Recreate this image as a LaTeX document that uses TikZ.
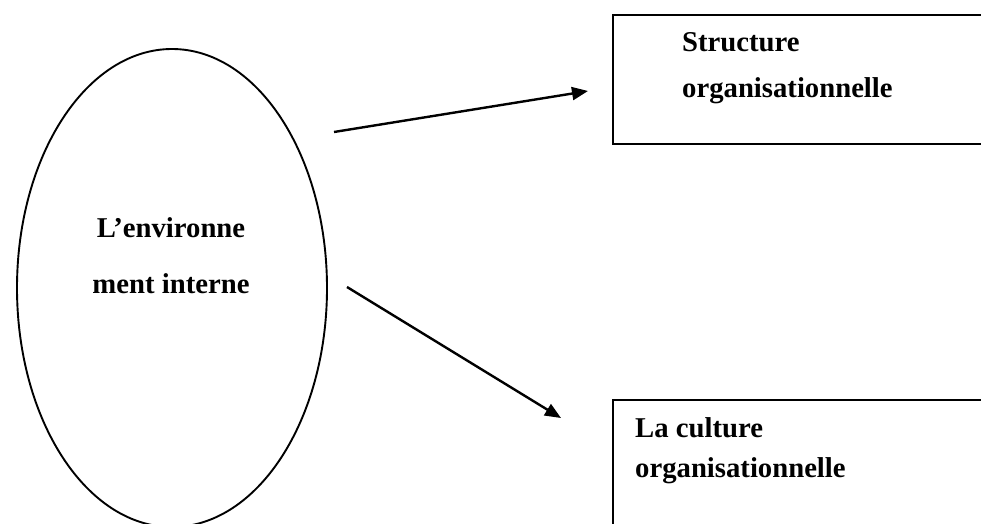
\documentclass[tikz,border=0pt]{standalone}
\usepackage{fontspec}
\setmainfont{Liberation Serif}
\usetikzlibrary{arrows.meta,shapes.geometric}
\begin{document}
\begin{tikzpicture}[x=1pt,y=1pt,
  lbl/.style={font=\fontsize{28.7}{34}\selectfont\bfseries, inner sep=0pt, anchor=base west},
  conn/.style={line width=2.4pt, -{Triangle[length=16pt,width=13pt]}},
  boxframe/.style={draw, rectangle, line width=1.8pt, minimum width=400pt, inner sep=0pt, anchor=north west},
]
\useasboundingbox (0,0) rectangle (981,523);
\clip (0,0) rectangle (981,523);

% internal environment
\node[ellipse, draw, line width=1.9pt, minimum width=310pt, minimum height=478pt, inner sep=0pt] (env) at (172,235) {};
\node[lbl, anchor=base] (envA) at (171,286) {L’environne};
\node[lbl, anchor=base] (envB) at (171,230) {ment interne};

% target boxes
\node[boxframe, minimum height=129pt] (struct) at (612,509) {};
\node[lbl] (structA) at (682,471) {Structure};
\node[lbl] (structB) at (682,425) {organisationnelle};

\node[boxframe, minimum height=160pt] (cult) at (612,124) {};
\node[lbl] (cultA) at (635,86) {La culture};
\node[lbl] (cultB) at (635,46) {organisationnelle};

% arrows
\coordinate (a1s) at (334,391);
\coordinate (a1e) at (588,432);
\coordinate (a2s) at (347,236);
\coordinate (a2e) at (561,105);
\draw[conn] (a1s) -- (a1e);
\draw[conn] (a2s) -- (a2e);
\end{tikzpicture}
\end{document}
